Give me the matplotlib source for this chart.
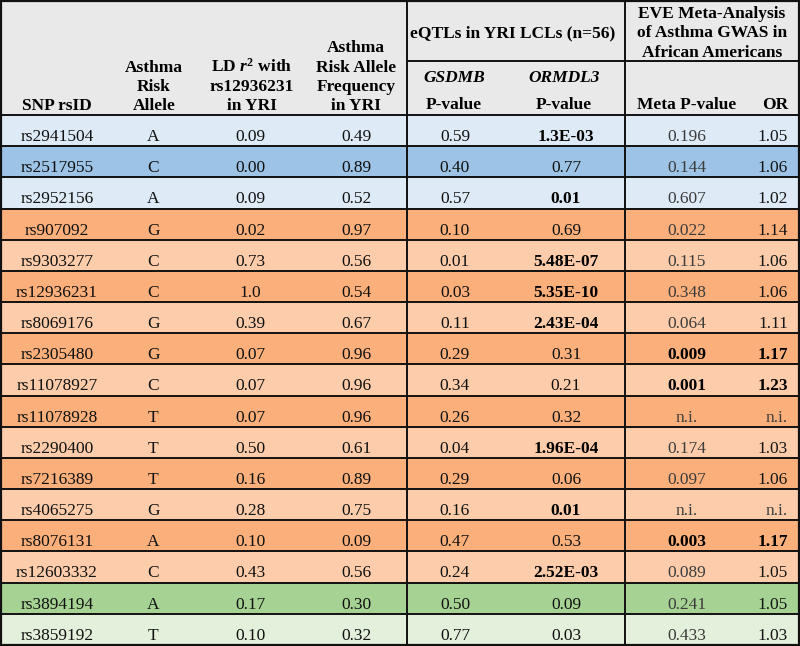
import matplotlib
matplotlib.use("Agg")
import matplotlib.pyplot as plt
from matplotlib.patches import Rectangle

plt.rcParams['font.family'] = ['Liberation Serif', 'DejaVu Serif']
plt.rcParams['mathtext.fontset'] = 'custom'
plt.rcParams['mathtext.rm'] = 'Liberation Serif:bold'
plt.rcParams['mathtext.it'] = 'Liberation Serif:italic:bold'
plt.rcParams['mathtext.bf'] = 'Liberation Serif:bold'

# ---------------- data ----------------
snp = ["rs2941504", "rs2517955", "rs2952156", "rs907092", "rs9303277", "rs12936231",
       "rs8069176", "rs2305480", "rs11078927", "rs11078928", "rs2290400", "rs7216389",
       "rs4065275", "rs8076131", "rs12603332", "rs3894194", "rs3859192"]
allele = ["A", "C", "A", "G", "C", "C", "G", "G", "C", "T", "T", "T", "G", "A", "C", "A", "T"]
ld_r2 = ["0.09", "0.00", "0.09", "0.02", "0.73", "1.0", "0.39", "0.07", "0.07", "0.07",
         "0.50", "0.16", "0.28", "0.10", "0.43", "0.17", "0.10"]
risk_freq = ["0.49", "0.89", "0.52", "0.97", "0.56", "0.54", "0.67", "0.96", "0.96", "0.96",
             "0.61", "0.89", "0.75", "0.09", "0.56", "0.30", "0.32"]
gsdmb_p = ["0.59", "0.40", "0.57", "0.10", "0.01", "0.03", "0.11", "0.29", "0.34", "0.26",
           "0.04", "0.29", "0.16", "0.47", "0.24", "0.50", "0.77"]
ormdl3_p = ["1.3E-03", "0.77", "0.01", "0.69", "5.48E-07", "5.35E-10", "2.43E-04", "0.31",
            "0.21", "0.32", "1.96E-04", "0.06", "0.01", "0.53", "2.52E-03", "0.09", "0.03"]
ormdl3_bold = [True, False, True, False, True, True, True, False, False, False, True,
               False, True, False, True, False, False]
meta_p = ["0.196", "0.144", "0.607", "0.022", "0.115", "0.348", "0.064", "0.009", "0.001",
          "n.i.", "0.174", "0.097", "n.i.", "0.003", "0.089", "0.241", "0.433"]
odds_ratio = ["1.05", "1.06", "1.02", "1.14", "1.06", "1.06", "1.11", "1.17", "1.23", "n.i.",
              "1.03", "1.06", "n.i.", "1.17", "1.05", "1.05", "1.03"]
meta_bold = [False, False, False, False, False, False, False, True, True, False, False,
             False, False, True, False, False, False]
row_group = ["lblue", "blue", "lblue", "orange", "lorange", "orange", "lorange", "orange",
             "lorange", "orange", "lorange", "orange", "lorange", "orange", "lorange",
             "green", "lgreen"]

# ---------------- styling ----------------
group_colors = {"lblue": "#deebf7", "blue": "#9dc3e6", "orange": "#fbb07c",
                "lorange": "#fdcdab", "green": "#a6d394", "lgreen": "#e3f0db"}
header_color = "#e9e9e9"

W, H = 800, 646
fig = plt.figure(figsize=(8.0, 6.46), dpi=100)
ax = fig.add_axes([0, 0, 1, 1])
ax.set_xlim(0, W)
ax.set_ylim(H, 0)
ax.axis('off')

header_h = 115
sub_y = 61
row_h = (H - 1 - header_h) / len(snp)
v1, v2 = 407, 625
fs = 12.5

# header background
ax.add_patch(Rectangle((0, 0), W, header_h, facecolor=header_color, edgecolor='none'))

# row backgrounds
for i, g in enumerate(row_group):
    ax.add_patch(Rectangle((0, header_h + i * row_h), W, row_h,
                           facecolor=group_colors[g], edgecolor='none'))

# header text
hb = dict(ha='center', va='baseline', fontsize=fs, fontweight='bold', color='black')
ax.text(57, 110, "SNP rsID", **hb)
for t, y in zip(["Asthma", "Risk", "Allele"], [72, 91, 110]):
    ax.text(154, y, t, **hb)
for t, y in zip(["LD $r^2$ with", "rs12936231", "in YRI"], [72, 91, 110]):
    ax.text(252, y, t, **hb)
for t, y in zip(["Asthma", "Risk Allele", "Frequency", "in YRI"], [52, 72, 91, 110]):
    ax.text(356, y, t, **hb)
ax.text(513, 37, "eQTLs in YRI LCLs (n=56)", **hb)
for t, y in zip(["EVE Meta-Analysis", "of Asthma GWAS in", "African Americans"], [18, 37, 57]):
    ax.text(712, y, t, **hb)
ax.text(454, 82, "GSDMB", style='italic', **hb)
ax.text(564, 82, "ORMDL3", style='italic', **hb)
ax.text(454, 109, "P-value", **hb)
ax.text(564, 109, "P-value", **hb)
ax.text(687, 109, "Meta P-value", **hb)
hb_r = dict(hb); hb_r['ha'] = 'right'
ax.text(788, 109, "OR", **hb_r)

# data text
for i in range(len(snp)):
    yb = header_h + i * row_h + 26
    kw = dict(va='baseline', fontsize=fs, color='#111111')
    ax.text(57, yb, snp[i], ha='center', **kw)
    ax.text(153, yb, allele[i], ha='center', **kw)
    ax.text(250, yb, ld_r2[i], ha='center', **kw)
    ax.text(356, yb, risk_freq[i], ha='center', **kw)
    ax.text(455, yb, gsdmb_p[i], ha='center', **kw)
    ax.text(566, yb, ormdl3_p[i], ha='center',
            fontweight='bold' if ormdl3_bold[i] else 'normal',
            va='baseline', fontsize=fs, color='black' if ormdl3_bold[i] else '#111111')
    if meta_bold[i]:
        ax.text(687, yb, meta_p[i], ha='center', va='baseline', fontsize=fs,
                fontweight='bold', color='black')
        ax.text(788, yb, odds_ratio[i], ha='right', va='baseline', fontsize=fs,
                fontweight='bold', color='black')
    else:
        ax.text(687, yb, meta_p[i], ha='center', va='baseline', fontsize=fs, color='#3c3c3c')
        ax.text(788, yb, odds_ratio[i], ha='right', va='baseline', fontsize=fs,
                color='#3c3c3c' if odds_ratio[i] == 'n.i.' else '#151515')

# grid lines
lc = '#111111'
for i in range(len(snp)):
    y = header_h + i * row_h
    ax.plot([0, W], [y, y], color=lc, lw=1.4, solid_capstyle='butt')
ax.plot([v1, W], [sub_y, sub_y], color=lc, lw=1.4)
ax.plot([v1, v1], [0, H], color=lc, lw=1.4)
ax.plot([v2, v2], [0, H], color=lc, lw=1.4)
# outer border
ax.add_patch(Rectangle((0.8, 0.8), W - 1.6, H - 1.6, facecolor='none', edgecolor=lc, lw=1.6))

fig.savefig("out.png", dpi=100)
